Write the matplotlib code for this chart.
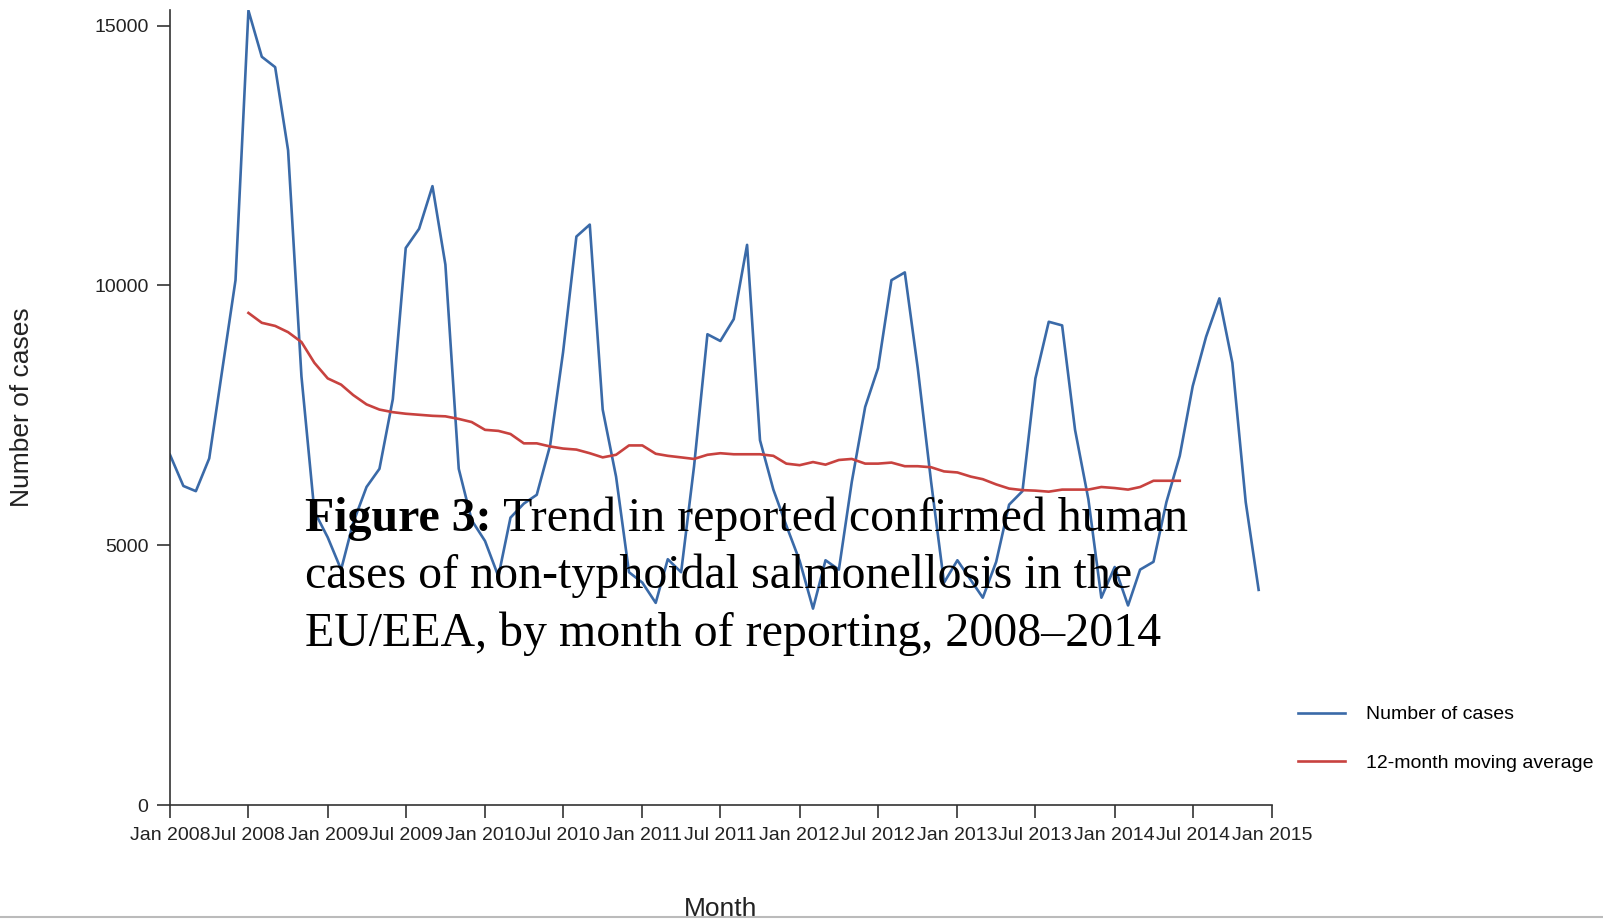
import matplotlib
matplotlib.use('Agg')
import matplotlib.pyplot as plt
import matplotlib.dates as mdates
import pandas as pd
from matplotlib.lines import Line2D

# --- data (monthly, Jan 2008 - Dec 2014) ---
months = pd.date_range('2008-01-01', periods=84, freq='MS')
cases = [
    6740, 6140, 6040, 6670, 8360, 10100, 15290, 14400, 14200, 12600, 8250, 5650,   # 2008
    5150, 4530, 5430, 6120, 6470, 7810, 10720, 11090, 11910, 10400, 6470, 5480,    # 2009
    5080, 4400, 5530, 5800, 5970, 6920, 8710, 10940, 11170, 7610, 6320, 4480,      # 2010
    4280, 3890, 4730, 4480, 6520, 9060, 8930, 9350, 10780, 7020, 6070, 5380,       # 2011
    4700, 3780, 4710, 4530, 6220, 7660, 8410, 10100, 10250, 8410, 6220, 4280,      # 2012
    4710, 4330, 3990, 4680, 5780, 6040, 8210, 9300, 9230, 7220, 5880, 3990,        # 2013
    4580, 3840, 4530, 4680, 5830, 6720, 8060, 9010, 9750, 8510, 5830, 4140,        # 2014
]
# centred 12-month moving average, Jul 2008 - Jun 2014
ma_months = months[6:78]
moving_avg = [
    9470, 9280, 9220, 9100, 8910, 8510, 8210, 8090, 7890, 7710, 7610, 7560,
    7530, 7510, 7490, 7480, 7430, 7370, 7220, 7200, 7140, 6960, 6960, 6900,
    6860, 6840, 6770, 6690, 6740, 6920, 6920, 6760, 6720, 6690, 6660, 6740,
    6770, 6750, 6750, 6750, 6720, 6570, 6540, 6600, 6550, 6640, 6660, 6570,
    6570, 6590, 6520, 6520, 6500, 6420, 6400, 6320, 6270, 6170, 6090, 6060,
    6050, 6030, 6070, 6070, 6070, 6120, 6100, 6070, 6120, 6240, 6240, 6240,
]
y_ticks = [0, 5000, 10000, 15000]
legend_labels = ['Number of cases', '12-month moving average']
caption_bold = 'Figure 3:'
caption_lines = [' Trend in reported confirmed human',
                 'cases of non-typhoidal salmonellosis in the',
                 'EU/EEA, by month of reporting, 2008\u20132014']

W, H = 1603, 919
plt.rcParams['font.family'] = ['Liberation Sans', 'DejaVu Sans']

fig = plt.figure(figsize=(W / 100, H / 100), dpi=100)
ax = fig.add_axes([170 / W, 1 - 805 / H, 1102 / W, 795 / H])

blue = '#3a6aa8'
red = '#c8423f'
ax.plot(months, cases, color=blue, lw=1.9, label=legend_labels[0])
ax.plot(ma_months, moving_avg, color=red, lw=1.9, label=legend_labels[1])

ax.set_xlim(pd.Timestamp('2008-01-01'), pd.Timestamp('2015-01-01'))
ax.set_ylim(0, 15300)
ax.set_yticks(y_ticks)
ax.set_xticks(pd.date_range('2008-01-01', '2015-01-01', freq='6MS'))
ax.xaxis.set_major_formatter(mdates.DateFormatter('%b %Y'))

for s in ['top', 'right']:
    ax.spines[s].set_visible(False)
for s in ['left', 'bottom']:
    ax.spines[s].set_color('#333333')
    ax.spines[s].set_linewidth(1.2)
ax.tick_params(length=9.5, width=1.2, color='#333333', labelsize=14,
               labelcolor='#222222', pad=6)

ax.set_xlabel('Month', fontsize=19, color='#222222')
ax.xaxis.set_label_coords(0.5, (805 - 909) / 795)
ax.xaxis.label.set_va('center')
ax.set_ylabel('Number of cases', fontsize=19, color='#222222')
ax.yaxis.set_label_coords((22.5 - 170) / 1102, 0.5)
ax.yaxis.label.set_va('center')

ax.legend(loc='center left', bbox_to_anchor=(1298 / W, 1 - 739 / H),
          bbox_transform=fig.transFigure, frameon=False, fontsize=14,
          borderpad=0, borderaxespad=0, handlelength=2.4,
          handletextpad=1.1, labelspacing=1.6)

# caption overlaid on the chart
serif = ['Liberation Serif', 'DejaVu Serif']
x0 = 305 / W
t = fig.text(x0, 1 - 531 / H, caption_bold, fontsize=34.5, fontweight='bold',
             family=serif, va='baseline')
r = fig.canvas.get_renderer()
bw = t.get_window_extent(r).width / W
fig.text(x0 + bw, 1 - 531 / H, caption_lines[0], fontsize=34.5,
         family=serif, va='baseline')
fig.text(x0, 1 - 588 / H, caption_lines[1], fontsize=34.5, family=serif,
         va='baseline')
fig.text(x0, 1 - 646 / H, caption_lines[2], fontsize=34.5, family=serif,
         va='baseline')

# page border at the bottom
fig.add_artist(Line2D([0, 1], [1 - 917 / H] * 2, color='#bbbbbb', lw=1.5,
                      transform=fig.transFigure))

fig.savefig('out.png', dpi=100)
